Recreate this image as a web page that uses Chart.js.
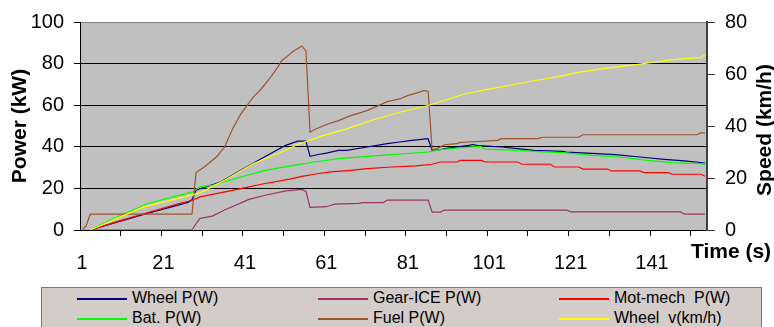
<!DOCTYPE html>
<html lang="en">
<head>
  <meta charset="UTF-8">
  <title>Power and Speed</title>
  <script src="https://cdn.jsdelivr.net/npm/chart.js"></script>
  <style>
    body {
      margin: 0;
      background: #fff;
      font-family: Arial, "Liberation Sans", sans-serif;
    }

    #wrap {
      position: relative;
      width: 774px;
      height: 327px;
    }

    #chart {
      position: absolute;
      left: 0;
      top: 0;
    }

    .legend {
      position: absolute;
      left: 41px;
      top: 287px;
      width: 719px;
      height: 39px;
      background: #d4ccc8;
      border: 1px solid #7a7a7a;
    }

    .item {
      position: absolute;
      height: 20px;
      font-size: 16px;
      line-height: 20px;
      white-space: pre;
      color: #000;
    }

    .swatch {
      display: inline-block;
      width: 50px;
      height: 2px;
      vertical-align: middle;
      margin-right: 5px;
    }
  </style>
</head>
<body>
  <div id="wrap">
    <canvas id="chart" width="774" height="285"></canvas>
    <div class="legend" id="legend"></div>
  </div>

  <script>
    // Axis ticks
    const timeTicks = [1, 21, 41, 61, 81, 101, 121, 141];
    const markTicks = [10.5, 20.5, 30.5, 40.5, 50.5, 60.5, 70.5, 80.5, 90.5, 100.5, 110.5, 120.5, 130.5, 140.5, 150.5];

    // Wheel P (kW)
    const wheelT = [1, 3, 10, 17, 23, 27, 28, 29, 35, 40, 45, 48, 51, 54, 56, 57, 59, 61, 64, 66, 71, 76, 79, 82, 86, 87, 89, 91, 96, 97, 98, 104, 108, 112, 119, 120, 125, 132, 138, 144, 149, 154];
    const wheelP = [0, 0, 4, 8, 11.1, 13.3, 14.5, 19.1, 23.1, 28.7, 34.3, 37.5, 40.7, 42.7, 42.7, 35.4, 36.3, 37, 38.3, 38.3, 39.9, 41.5, 42.3, 43.1, 43.9, 38.3, 38.6, 39.4, 40.7, 41.1, 40.7, 39.9, 39.1, 38.3, 37.8, 37.4, 37, 36.2, 35.1, 34, 33.2, 32.2];

    // Gear-ICE P (kW)
    const gearT = [1, 28, 29, 30, 33, 36, 42, 46, 51, 55, 56, 57, 61, 62, 63, 69, 70, 75, 76, 86, 87, 89, 90, 120, 121, 148, 149, 154];
    const gearP = [0, 0, 3, 5.6, 6.7, 9.6, 14.7, 16.7, 18.8, 19.5, 18.5, 10.9, 11.2, 11.8, 12.4, 12.8, 13.2, 13.2, 14.4, 14.4, 8.6, 8.6, 9.6, 9.6, 8.7, 8.7, 7.6, 7.6];

    // Mot-mech P (kW)
    const motT = [1, 3, 10, 17, 25, 28, 30, 34, 40, 45, 52, 55, 58, 62, 67, 71, 77, 83, 87, 89, 93, 94, 99, 100, 108, 109, 116, 117, 123, 124, 130, 131, 138, 139, 145, 146, 153, 154];
    const motP = [0, 0, 4.3, 8.3, 12.8, 14.2, 15.9, 17.5, 19.9, 22, 24.5, 25.8, 26.8, 27.9, 28.7, 29.5, 30.3, 30.8, 31.6, 32.7, 32.7, 33.5, 33.5, 32.7, 32.7, 31.6, 31.6, 30.3, 30.3, 29.3, 29.3, 28.4, 28.4, 27.6, 27.6, 26.8, 26.8, 25.8];

    // Bat. P (kW)
    const batT = [1, 3, 9, 17, 24, 28, 30, 33, 40, 46, 53, 58, 64, 71, 78, 86, 89, 96, 99, 100, 108, 112, 120, 126, 133, 140, 146, 153, 154];
    const batP = [0, 0, 5.8, 12.6, 16.3, 18.2, 20.7, 21.5, 25.5, 28.7, 31.1, 32.7, 34.3, 35.4, 36.4, 37.5, 38.6, 39.9, 40.2, 38.9, 38.3, 37.8, 37.1, 35.9, 35.1, 33.5, 32.4, 31.9, 31.4];

    // Fuel P (kW)
    const fuelT = [1, 2, 3, 28, 29, 31, 34, 36, 38, 40, 43, 45, 47, 49, 50, 53, 55, 56, 57, 58, 61, 64, 67, 71, 76, 79, 81, 85, 86, 87, 89, 90, 93, 94, 96, 103, 104, 113, 114, 123, 124, 152, 153, 154];
    const fuelP = [0, 2, 7.6, 7.6, 27.6, 30.3, 35.1, 39.9, 48.7, 55.8, 63.8, 67.8, 72.6, 78.1, 81.3, 86.1, 88.5, 86.1, 47, 48.2, 50.7, 52.6, 55, 57.4, 61.7, 63, 64.6, 67, 66.7, 38.3, 39.9, 41, 41.5, 42.1, 42.3, 43.1, 43.9, 43.9, 44.6, 44.6, 45.8, 45.8, 46.7, 46.7];

    // Wheel v (km/h), right axis
    const speedT = [1, 3, 16, 30, 36, 43, 50, 54, 59, 66, 72, 79, 86, 95, 100, 112, 118, 123, 128, 138, 145, 153, 154];
    const speedV = [0, 0, 8.8, 14.3, 19.1, 25.5, 30, 32.9, 35.7, 38.9, 42.1, 45.3, 47.9, 52.3, 53.9, 57.4, 59, 60.6, 61.9, 63.8, 65.3, 66.4, 67.4];

    const names = ["Wheel P(W)", "Gear-ICE P(W)", "Mot-mech  P(W)", "Bat. P(W)", "Fuel P(W)", "Wheel  v(km/h)"];
    const colors = ["#000080", "#993366", "#ff0000", "#00ff00", "#a0522d", "#ffff00"];

    function pts(t, v) {
      return t.map((x, i) => ({ x: x, y: v[i] }));
    }

    const series = [
      pts(wheelT, wheelP),
      pts(gearT, gearP),
      pts(motT, motP),
      pts(batT, batP),
      pts(fuelT, fuelP),
      pts(speedT, speedV)
    ];

    const datasets = series.map((d, i) => ({
      label: names[i],
      data: d,
      borderColor: colors[i],
      backgroundColor: colors[i],
      borderWidth: 1.2,
      pointRadius: 0,
      tension: 0,
      yAxisID: i === 5 ? "y1" : "y",
      order: 6 - i // later series drawn on top, like the original
    }));

    const allTicks = timeTicks.concat(markTicks).sort((a, b) => a - b);
    const fontFamily = 'Arial, "Liberation Sans", sans-serif';
    Chart.defaults.font.family = fontFamily;
    Chart.defaults.color = "#000";

    // gray plot area
    const plotBg = {
      id: "plotBg",
      beforeDraw(chart) {
        const { ctx, chartArea: a } = chart;
        ctx.save();
        ctx.fillStyle = "#c0c0c0";
        ctx.fillRect(a.left, a.top, a.right - a.left, a.bottom - a.top);
        ctx.restore();
      }
    };

    // titles that Chart.js cannot place like the original
    const sideTitles = {
      id: "sideTitles",
      afterDraw(chart) {
        const { ctx, chartArea: a, scales } = chart;
        ctx.save();
        ctx.font = "bold 21px " + fontFamily;
        ctx.fillStyle = "#000";
        ctx.textAlign = "center";
        ctx.textBaseline = "middle";
        ctx.fillText("Time (s)", a.right + 24, a.bottom + 22);
        ctx.translate(scales.y1.right - 9, (a.top + a.bottom) / 2 + 4);
        ctx.rotate(-Math.PI / 2);
        ctx.fillText("Speed (km/h)", 0, 0);
        ctx.restore();
      }
    };

    new Chart(document.getElementById("chart"), {
      type: "line",
      data: { datasets: datasets },
      plugins: [plotBg, sideTitles],
      options: {
        responsive: false,
        animation: false,
        layout: { padding: { top: 21, left: 0, right: 0, bottom: 0 } },
        plugins: {
          legend: { display: false },
          tooltip: { enabled: false }
        },
        scales: {
          x: {
            type: "linear",
            min: 0.5,
            max: 154.5,
            afterBuildTicks: s => { s.ticks = allTicks.map(v => ({ value: v })); },
            afterFit: s => { s.height = 55; },
            ticks: {
              autoSkip: false,
              maxRotation: 0,
              padding: 15,
              font: { size: 20 },
              color: "#000",
              callback: v => timeTicks.includes(v) ? String(v) : ""
            },
            grid: {
              drawOnChartArea: false,
              tickLength: 6,
              tickColor: c => (c.tick && timeTicks.includes(c.tick.value)) ? "rgba(0,0,0,0)" : "#000"
            },
            border: { color: "#000", width: 1 }
          },
          y: {
            position: "left",
            min: 0,
            max: 100,
            afterFit: s => { s.width = 80; },
            ticks: { stepSize: 20, padding: 10, font: { size: 20 }, color: "#000" },
            grid: {
              color: c => (c.tick && c.tick.value === 100) ? "#808080" : "#000",
              tickLength: 6,
              tickColor: "#000"
            },
            border: { color: "#000", width: 1 },
            title: {
              display: true,
              text: "Power (kW)",
              color: "#000",
              font: { size: 21, weight: "bold" },
              padding: { top: 8, bottom: 0 }
            }
          },
          y1: {
            position: "right",
            min: 0,
            max: 80,
            afterFit: s => { s.width = 67; },
            ticks: { stepSize: 20, padding: 10, font: { size: 20 }, color: "#000" },
            grid: { drawOnChartArea: false, tickLength: 8, tickColor: "#333" },
            border: { color: "#404040", width: 2 }
          }
        }
      }
    });

    // legend box: three columns, two rows
    const legend = document.getElementById("legend");
    names.forEach((name, i) => {
      const item = document.createElement("div");
      item.className = "item";
      item.style.left = (35 + (i % 3) * 241) + "px";
      item.style.top = (Math.floor(i / 3) * 20) + "px";
      const sw = document.createElement("span");
      sw.className = "swatch";
      sw.style.background = colors[i];
      item.appendChild(sw);
      item.appendChild(document.createTextNode(name));
      legend.appendChild(item);
    });
  </script>
</body>
</html>
